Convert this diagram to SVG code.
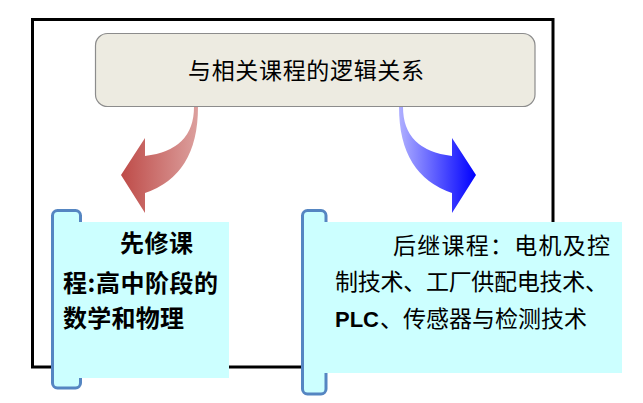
<svg xmlns="http://www.w3.org/2000/svg" width="643" height="403" viewBox="0 0 643 403">
<style>
.cjk{font-family:"Noto Sans CJK SC","Noto Sans",sans-serif;fill:#000}
.bold{font-weight:bold}
.bar{fill:#CCFFFF;stroke:#5586C2;stroke-width:3}
.panel{fill:#CCFFFF}
</style>
<defs>
<linearGradient id="gRed" x1="121" y1="0" x2="198" y2="0" gradientUnits="userSpaceOnUse">
<stop offset="0" stop-color="#BE4B48"/>
<stop offset="1" stop-color="#DCA09E"/>
</linearGradient>
<linearGradient id="gBlue" x1="399" y1="0" x2="476" y2="0" gradientUnits="userSpaceOnUse">
<stop offset="0" stop-color="#B0B0FF"/>
<stop offset="1" stop-color="#0000FF"/>
</linearGradient>
</defs>
<rect x="32.5" y="19.5" width="520.5" height="347.5" fill="#FFFFFF" stroke="#000" stroke-width="3"/>
<g id="title">
<rect x="95.5" y="33.5" width="439.5" height="73" rx="12" fill="#EDEBE1" stroke="#8C8C8C" stroke-width="1.2"/>
<text class="cjk" x="188" y="79" font-size="23" textLength="236" lengthAdjust="spacing">与相关课程的逻辑关系</text>
</g>
<g id="connectors">
<path d="M194,107 Q194,150 145,156 L145,138 L121,175 L145,213 L145,193 Q198,175 198,107 Z" fill="url(#gRed)"/>
<path d="M403,107 Q403,150 452,156 L452,138 L476,175 L452,213 L452,193 Q399,175 399,107 Z" fill="url(#gBlue)"/>
</g>
<g id="prereq">
<rect class="bar" x="52.5" y="210.5" width="28" height="177.5" rx="5"/>
<rect class="panel" x="68" y="222" width="161" height="156"/>
<text class="cjk bold" x="120" y="252" font-size="24" textLength="73" lengthAdjust="spacing">先修课</text>
<text class="cjk bold" x="63" y="292" font-size="24" textLength="155" lengthAdjust="spacing">程:高中阶段的</text>
<text class="cjk bold" x="63" y="327" font-size="24" textLength="121" lengthAdjust="spacing">数学和物理</text>
</g>
<g id="followup">
<rect class="bar" x="302.5" y="210.5" width="23.5" height="183.5" rx="5"/>
<rect class="panel" x="316" y="222" width="306" height="151"/>
<text class="cjk" x="393" y="254" font-size="23" textLength="217" lengthAdjust="spacing">后继课程：电机及控</text>
<text class="cjk" x="335" y="290" font-size="23" textLength="273" lengthAdjust="spacing">制技术、工厂供配电技术、</text>
<text class="cjk" x="335" y="327" font-size="23"><tspan font-family="Liberation Sans, Arial, sans-serif" font-weight="bold" font-size="22">PLC</tspan><tspan x="380">、传感器与检测技术</tspan></text>
</g>
</svg>
